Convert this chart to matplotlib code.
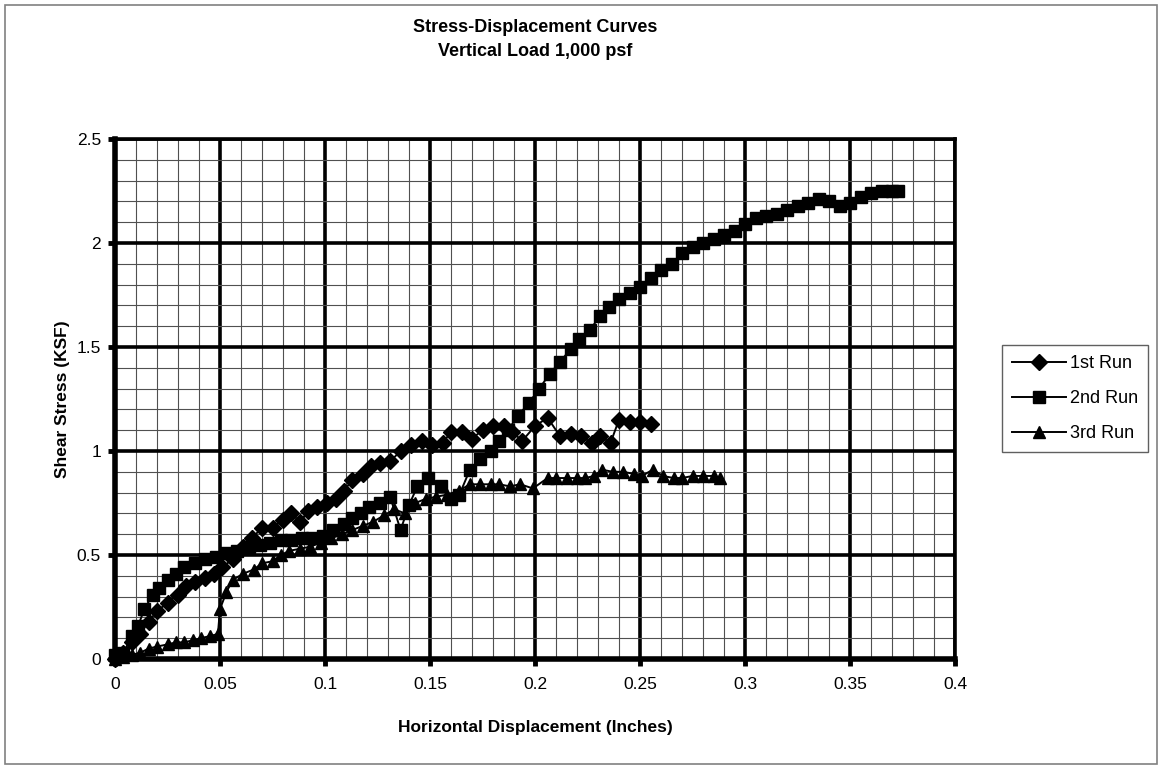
import numpy as np
import matplotlib
matplotlib.use('Agg')
import matplotlib.pyplot as plt
from matplotlib.patches import Rectangle

plt.rcParams['font.family'] = ['Liberation Sans', 'DejaVu Sans']

# Run 1 (diamonds)
x1 = [0, 0.004, 0.008, 0.012, 0.016, 0.020, 0.025, 0.030, 0.034, 0.038, 0.043, 0.047, 0.051, 0.056, 0.061,
      0.065, 0.070, 0.075, 0.080, 0.084, 0.088, 0.092, 0.096, 0.101, 0.105, 0.109, 0.113, 0.118, 0.122, 0.126,
      0.131, 0.136, 0.141, 0.146, 0.151, 0.156, 0.160, 0.165, 0.170, 0.175, 0.180, 0.185, 0.189, 0.194, 0.200,
      0.206, 0.212, 0.217, 0.222, 0.227, 0.231, 0.236, 0.240, 0.245, 0.250, 0.255]
y1 = [0.00, 0.03, 0.08, 0.12, 0.18, 0.23, 0.27, 0.31, 0.35, 0.37, 0.39, 0.41, 0.44, 0.48, 0.54,
      0.58, 0.63, 0.63, 0.67, 0.70, 0.66, 0.71, 0.73, 0.75, 0.77, 0.81, 0.86, 0.89, 0.93, 0.94,
      0.95, 1.00, 1.03, 1.05, 1.03, 1.04, 1.09, 1.09, 1.06, 1.10, 1.12, 1.12, 1.09, 1.05, 1.12,
      1.16, 1.07, 1.08, 1.07, 1.04, 1.07, 1.04, 1.15, 1.14, 1.14, 1.13]

# Run 2 (squares)
x2 = [0, 0.004, 0.008, 0.011, 0.014, 0.018, 0.021, 0.025, 0.029, 0.033, 0.038, 0.043, 0.048, 0.053, 0.058,
      0.064, 0.069, 0.074, 0.079, 0.084, 0.089, 0.094, 0.099, 0.104, 0.109, 0.113, 0.117, 0.121, 0.126, 0.131,
      0.136, 0.140, 0.144, 0.149, 0.155, 0.160, 0.164, 0.169, 0.174, 0.179, 0.183, 0.187, 0.192, 0.197, 0.202,
      0.207, 0.212, 0.217, 0.221, 0.226, 0.231, 0.235, 0.240, 0.245, 0.250, 0.255, 0.260, 0.265, 0.270, 0.275,
      0.280, 0.285, 0.290, 0.295, 0.300, 0.305, 0.310, 0.315, 0.320, 0.325, 0.330, 0.335, 0.340, 0.345, 0.350,
      0.355, 0.360, 0.365, 0.370, 0.373]
y2 = [0.02, 0.03, 0.11, 0.16, 0.24, 0.31, 0.34, 0.38, 0.41, 0.44, 0.46, 0.48, 0.49, 0.51, 0.52,
      0.54, 0.55, 0.56, 0.57, 0.57, 0.58, 0.58, 0.59, 0.62, 0.65, 0.68, 0.70, 0.73, 0.75, 0.78,
      0.62, 0.74, 0.83, 0.87, 0.83, 0.77, 0.79, 0.91, 0.96, 1.00, 1.05, 1.10, 1.17, 1.23, 1.30,
      1.37, 1.43, 1.49, 1.54, 1.58, 1.65, 1.69, 1.73, 1.76, 1.79, 1.83, 1.87, 1.90, 1.95, 1.98,
      2.00, 2.02, 2.04, 2.06, 2.09, 2.12, 2.13, 2.14, 2.16, 2.18, 2.19, 2.21, 2.20, 2.18, 2.19,
      2.22, 2.24, 2.25, 2.25, 2.25]

# Run 3 (triangles)
x3 = [0, 0.004, 0.008, 0.012, 0.016, 0.020, 0.025, 0.029, 0.033, 0.037, 0.041, 0.045, 0.049, 0.050, 0.053,
      0.056, 0.061, 0.066, 0.070, 0.075, 0.079, 0.083, 0.088, 0.093, 0.098, 0.103, 0.108, 0.113, 0.118, 0.123,
      0.128, 0.133, 0.138, 0.143, 0.148, 0.153, 0.158, 0.164, 0.169, 0.174, 0.179, 0.183, 0.188, 0.193, 0.199,
      0.206, 0.210, 0.215, 0.220, 0.224, 0.228, 0.232, 0.237, 0.242, 0.247, 0.251, 0.256, 0.261, 0.266, 0.270,
      0.275, 0.280, 0.285, 0.288]
y3 = [0.00, 0.01, 0.02, 0.03, 0.05, 0.06, 0.07, 0.08, 0.08, 0.09, 0.10, 0.11, 0.12, 0.24, 0.32,
      0.38, 0.41, 0.43, 0.46, 0.47, 0.50, 0.52, 0.53, 0.54, 0.56, 0.58, 0.60, 0.62, 0.64, 0.66,
      0.69, 0.72, 0.70, 0.75, 0.77, 0.78, 0.79, 0.81, 0.84, 0.84, 0.84, 0.84, 0.83, 0.84, 0.82,
      0.87, 0.87, 0.87, 0.87, 0.87, 0.88, 0.91, 0.90, 0.90, 0.89, 0.88, 0.91, 0.88, 0.87, 0.87,
      0.88, 0.88, 0.88, 0.87]

labels = ['1st Run', '2nd Run', '3rd Run']
xtick_vals = [0, 0.05, 0.1, 0.15, 0.2, 0.25, 0.3, 0.35, 0.4]
xtick_labels = ['0', '0.05', '0.1', '0.15', '0.2', '0.25', '0.3', '0.35', '0.4']
ytick_vals = [0, 0.5, 1, 1.5, 2, 2.5]
ytick_labels = ['0', '0.5', '1', '1.5', '2', '2.5']

W, H = 1162, 769
fig = plt.figure(figsize=(W / 100, H / 100), dpi=100)
ax = fig.add_axes([115 / W, 110 / H, 840 / W, 520 / H])

# outer chart frame
fig.patches.append(Rectangle((5 / W, 5 / H), 1152 / W, 759 / H, transform=fig.transFigure,
                             fill=False, edgecolor='#808080', linewidth=1.2))

ax.plot(x1, y1, color='black', lw=1.4, marker='D', markersize=8, clip_on=False, zorder=3, label=labels[0])
ax.plot(x2, y2, color='black', lw=1.4, marker='s', markersize=9, clip_on=False, zorder=3, label=labels[1])
ax.plot(x3, y3, color='black', lw=1.4, marker='^', markersize=9, clip_on=False, zorder=3, label=labels[2])

ax.set_xlim(0, 0.4)
ax.set_ylim(0, 2.5)
ax.set_xticks(xtick_vals)
ax.set_xticklabels(xtick_labels)
ax.set_yticks(ytick_vals)
ax.set_yticklabels(ytick_labels)
ax.set_xticks(np.arange(0, 0.4001, 0.01), minor=True)
ax.set_yticks(np.arange(0, 2.5001, 0.1), minor=True)

ax.set_axisbelow(True)
ax.grid(which='minor', color='#505050', linewidth=0.8)
ax.grid(which='major', color='black', linewidth=2.6)
ax.tick_params(which='minor', length=0)
ax.tick_params(which='major', length=5, width=3.5, labelsize=12.5, pad=8)
ax.tick_params(axis='y', which='major', pad=5)

for s in ['left', 'bottom']:
    ax.spines[s].set_linewidth(4)
for s in ['top', 'right']:
    ax.spines[s].set_linewidth(2.6)

ax.set_xlabel('Horizontal Displacement (Inches)', fontsize=12.5, fontweight='bold', labelpad=20)
ax.set_ylabel('Shear Stress (KSF)', fontsize=12.5, fontweight='bold', labelpad=5)
ax.set_title('Stress-Displacement Curves\nVertical Load 1,000 psf', fontsize=13,
             fontweight='bold', pad=60, linespacing=1.55)

fig.legend(loc='upper left', bbox_to_anchor=(1002 / W, 1 - 345 / H), fontsize=13,
           frameon=True, fancybox=False, edgecolor='#606060', framealpha=1, borderaxespad=0,
           handlelength=3.0, labelspacing=1.0, borderpad=0.55, handletextpad=0.2)

fig.savefig('out.png', dpi=100)
